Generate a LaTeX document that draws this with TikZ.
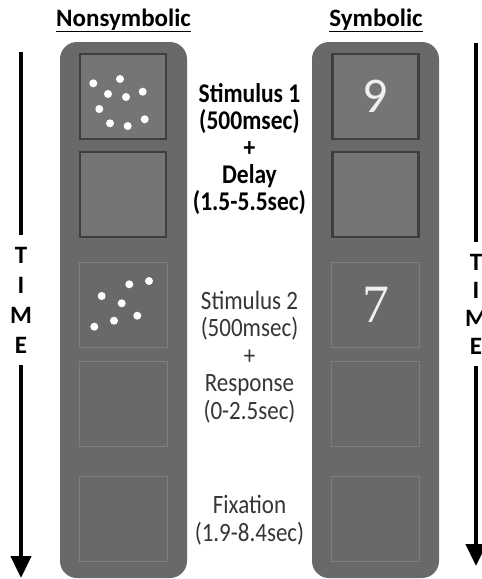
\documentclass[tikz,border=0pt]{standalone}
\usepackage{fontspec}
\setmainfont{Carlito}
\newfontfamily\serifnum{Liberation Serif}
\usetikzlibrary{arrows.meta,shadows}
\definecolor{panel}{HTML}{696969}
\definecolor{boxfill}{HTML}{757575}
\definecolor{boxedge}{HTML}{3E3E3E}
\definecolor{faint}{HTML}{7E7E7E}
\definecolor{graytext}{HTML}{363636}
\definecolor{numcol}{HTML}{F0F0F0}
\newcommand{\tallx}[1]{\scalebox{1}[1.15]{#1}}
\begin{document}
\begin{tikzpicture}[x=1pt,y=-1pt,
  panelbox/.style={draw=none,fill=panel,rounded corners=17pt,minimum width=127pt,minimum height=536pt,inner sep=0pt},
  raised/.style={fill=boxfill,draw=boxedge,line width=2.2pt,minimum width=86pt,minimum height=85pt,inner sep=0pt,
    drop shadow={shadow xshift=1.2pt,shadow yshift=-1.2pt,opacity=0.5,fill=black}},
  flat/.style={draw=faint,line width=0.6pt,minimum width=88pt,minimum height=85pt,inner sep=0pt},
  dot/.style={fill=white,draw=none},
  title/.style={font=\bfseries\fontsize{25}{30}\selectfont,anchor=base},
  boldinfo/.style={font=\bfseries\fontsize{23.5}{27}\selectfont,align=center,inner sep=0pt},
  info/.style={font=\fontsize{23}{27.5}\selectfont,text=graytext,align=center,inner sep=0pt},
  timelbl/.style={font=\bfseries\fontsize{25}{30}\selectfont,align=center,inner xsep=0pt,inner ysep=12pt},
  timearrow/.style={line width=4.5pt},
]
\useasboundingbox[fill=white] (0,0) rectangle (482,579);

% titles
\node[title] (tN) at (123.5,26) {\underline{Nonsymbolic}};
\node[title] (tS) at (376,26) {\underline{Symbolic}};

% panels
\node[panelbox] (pL) at (123.5,310) {};
\node[panelbox] (pR) at (375.5,310) {};

% left boxes
\node[raised] (l1) at (123,96.5) {};
\node[raised] (l2) at (123,194.5) {};
\node[flat] (l3) at (123,304.5) {};
\node[flat] (l4) at (123,403.5) {};
\node[flat] (l5) at (123,518.5) {};

% right boxes
\node[raised] (r1) at (375.5,96.5) {};
\node[raised] (r2) at (375.5,194.5) {};
\node[flat] (r3) at (375.5,304.5) {};
\node[flat] (r4) at (375.5,403.5) {};
\node[flat] (r5) at (375.5,518.5) {};

% dots, stimulus 1
\foreach \x/\y in {93.3/83.3,120/79,108/94,126/97,142.7/91.7,99.3/109,110/123.3,127.7/126,144.7/119.3}
  \fill[dot] (\x,\y) circle (4pt);
% dots, stimulus 2
\foreach \x/\y in {101.7/296,129.3/284.3,149/281,121.7/303.3,137.3/315.7,114/320.7,94.3/326.7}
  \fill[dot] (\x,\y) circle (4pt);

% numbers
\node[font=\fontsize{50}{50}\selectfont,text=numcol] (n9) at (r1) {9};
\node[font=\serifnum\fontsize{54}{54}\selectfont,text=numcol] (n7) at (r3) {7};

% middle texts
\node[boldinfo] (s1) at (249.5,149) {\tallx{Stimulus 1}\\\tallx{(500msec)}\\\tallx{+}\\\tallx{Delay}\\\tallx{(1.5-5.5sec)}};
\node[info] (s2) at (249.5,357) {\tallx{Stimulus 2}\\\tallx{(500msec)}\\\tallx{+}\\\tallx{Response}\\\tallx{(0-2.5sec)}};
\node[info] (fx) at (249.5,520) {\tallx{Fixation}\\\tallx{(1.9-8.4sec)}};

% time arrows
\coordinate (topL) at (21,52);
\coordinate (tipL) at (21,578);
\node[timelbl] (timeL) at (21,300) {T\\I\\M\\E};
\draw[timearrow] (topL) -- (timeL.north);
\draw[timearrow,-{Triangle[length=22pt,width=20pt]}] (timeL.south) -- (tipL);

\coordinate (topR) at (476,43);
\coordinate (tipR) at (476,566);
\node[timelbl,font=\bfseries\fontsize{25}{28}\selectfont] (timeR) at (476,304) {T\\I\\M\\E};
\draw[timearrow] (topR) -- (timeR.north);
\draw[timearrow,-{Triangle[length=22pt,width=20pt]}] (timeR.south) -- (tipR);
\end{tikzpicture}
\end{document}
